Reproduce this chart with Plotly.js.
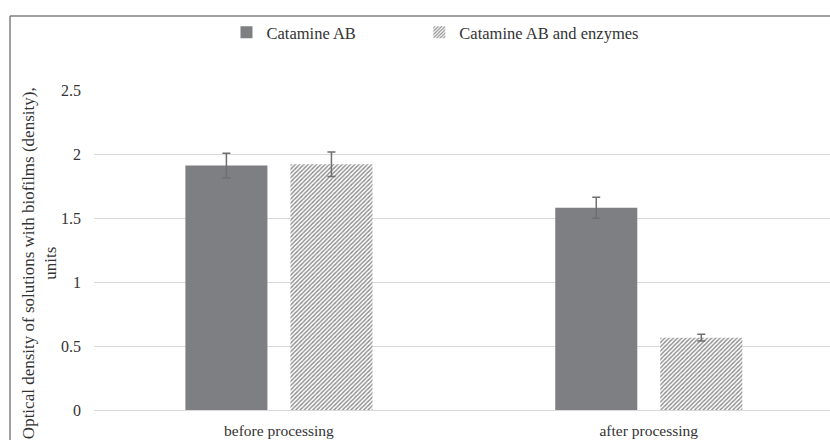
<!DOCTYPE html>
<html>
<head>
<meta charset="utf-8">
<script src="https://cdn.plot.ly/plotly-3.0.1.min.js"></script>
<style>html,body{margin:0;padding:0;background:#fff;}#chart{width:830px;height:440px;}</style>
</head>
<body>
<div id="chart"></div>
<script>
const categories = ["before processing", "after processing"];
const seriesNames = ["Catamine AB", "Catamine AB and enzymes"];
const catamineAB = [1.91, 1.58];
const catamineABErr = [0.095, 0.082];
const catamineEnz = [1.92, 0.565];
const catamineEnzErr = [0.095, 0.026];
const yTicks = [0, 0.5, 1, 1.5, 2, 2.5];
const yTickLabels = ["0", "0.5", "1", "1.5", "2", "2.5"];
const yTitle = "Optical density of solutions with biofilms (density),<br>units";

const FONT = "Liberation Serif, Times New Roman, serif";
const TXT = "#333333";

const traces = [
  {
    type: "bar", name: seriesNames[0], x: categories, y: catamineAB, legend: "legend",
    marker: {color: "#7e7f83"},
    error_y: {type: "data", array: catamineABErr, visible: true, color: "#6f6f6f", thickness: 1.5, width: 4}
  },
  {
    type: "bar", name: seriesNames[1], x: categories, y: catamineEnz, legend: "legend2",
    marker: {color: "#ffffff", pattern: {shape: "/", fgcolor: "#8a8a8a", bgcolor: "#ffffff", size: 3, solidity: 0.45}},
    error_y: {type: "data", array: catamineEnzErr, visible: true, color: "#6f6f6f", thickness: 1.5, width: 4}
  }
];

const legendCommon = {orientation: "h", xanchor: "left", y: 1.18, yanchor: "middle", bgcolor: "rgba(0,0,0,0)",
                      font: {family: FONT, size: 16.5, color: TXT}, itemwidth: 30};

const layout = {
  width: 830, height: 440,
  margin: {l: 94, r: 0, t: 90, b: 30},
  paper_bgcolor: "#ffffff", plot_bgcolor: "#ffffff",
  font: {family: FONT, size: 16, color: TXT},
  barmode: "group", bargap: 0.432, bargroupgap: 0.219,
  showlegend: true,
  legend: Object.assign({}, legendCommon, {x: 0.18}),
  legend2: Object.assign({}, legendCommon, {x: 0.442}),
  xaxis: {range: [-0.5, 1.49], showgrid: false, zeroline: false, showline: false, ticks: "",
          tickfont: {family: FONT, size: 15.5, color: TXT}, ticklabelstandoff: 9},
  yaxis: {range: [0, 2.5], tickvals: yTicks, ticktext: yTickLabels, showgrid: true, gridcolor: "#d9d9d9", gridwidth: 1,
          zeroline: true, zerolinecolor: "#d9d9d9", zerolinewidth: 1, showline: false, ticks: "",
          tickfont: {family: FONT, size: 16, color: TXT}, ticklabelstandoff: 12},
  annotations: [
    {text: yTitle, xref: "paper", yref: "paper", x: -0.0747, y: 0.459, xanchor: "center", yanchor: "middle",
     textangle: -90, showarrow: false, align: "center", font: {family: FONT, size: 17, color: TXT}}
  ],
  shapes: [
    {type: "line", xref: "paper", yref: "paper", x0: -0.1141, x1: 1.0, y0: 1.23125, y1: 1.23125, line: {color: "#808080", width: 1.5}},
    {type: "line", xref: "paper", yref: "paper", x0: -0.1141, x1: -0.1141, y0: 1.23125, y1: -0.1, line: {color: "#808080", width: 1.5}}
  ]
};

Plotly.newPlot("chart", traces, layout, {displayModeBar: false, staticPlot: true});
</script>
</body>
</html>
